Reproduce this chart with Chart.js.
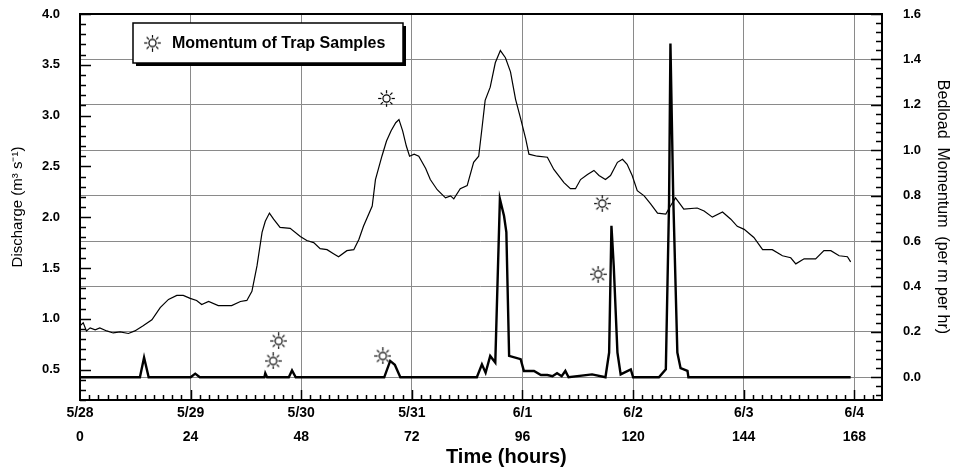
<!DOCTYPE html>
<html>
<head>
<meta charset="utf-8">
<script src="https://cdn.jsdelivr.net/npm/chart.js@4.4.1/dist/chart.umd.min.js"></script>
<style>
  html, body { margin: 0; padding: 0; background: #fff; }
</style>
</head>
<body>
<canvas id="flowChart" width="958" height="469"></canvas>
<script>
// discharge, hours since 5/28 00:00
const flowHours = [0, 0.7, 1.4, 2.2, 3.3, 4.3, 5.8, 7.2, 8.7, 10.5, 11.9, 13.7, 15.6, 17.4, 19.2, 21, 22.4, 23.9,
  25.3, 26.4, 27.9, 30, 32.9, 34.8, 36.2, 37.3, 38.4, 39.5, 40.2, 41.1, 42, 43.4, 45.6, 47.8, 49.2, 50.7,
  52.1, 53.6, 55, 56.1, 57.9, 59.4, 60.5, 61.5, 63.4, 64.1, 65.5, 66.5, 67.5, 68.5, 69.2, 70, 70.8, 71.5,
  72.5, 73.5, 75, 76, 77.5, 79.3, 80.4, 81.1, 82.5, 84, 85.4, 86.5, 87.2, 87.9, 89, 90.1, 91.2, 92.3, 93.4,
  94.5, 95.6, 96.7, 97.4, 99.2, 101.4, 102.8, 105, 106.4, 107.5, 108.6, 110.1, 111.5, 112.6, 114, 115.1,
  116.6, 117.7, 118.7, 119.8, 120.9, 122.4, 123.8, 125.3, 127.1, 128.1, 129.2, 131, 133.9, 135.4, 137.2,
  139.4, 141.2, 142.6, 144.1, 146.2, 148.1, 150.2, 152.4, 154.2, 155.3, 157.1, 159.6, 161.4, 162.9, 164.7,
  166.5, 167.2];
const flowValues = [0.93, 0.96, 0.88, 0.91, 0.89, 0.91, 0.88, 0.86, 0.87, 0.855, 0.88, 0.93, 0.99, 1.11, 1.19, 1.23, 1.23, 1.20,
  1.18, 1.14, 1.17, 1.13, 1.13, 1.17, 1.18, 1.27, 1.52, 1.85, 1.96, 2.04, 1.98, 1.90, 1.89, 1.81, 1.77, 1.75,
  1.69, 1.68, 1.64, 1.61, 1.67, 1.68, 1.78, 1.91, 2.11, 2.37, 2.60, 2.75, 2.85, 2.93, 2.96, 2.85, 2.70, 2.60,
  2.62, 2.60, 2.48, 2.37, 2.27, 2.19, 2.21, 2.18, 2.28, 2.31, 2.54, 2.60, 2.87, 3.15, 3.28, 3.52, 3.64, 3.57, 3.43,
  3.16, 2.97, 2.77, 2.62, 2.60, 2.59, 2.47, 2.34, 2.28, 2.28, 2.37, 2.42, 2.46, 2.41, 2.37, 2.41,
  2.54, 2.57, 2.52, 2.41, 2.26, 2.21, 2.13, 2.04, 2.03, 2.11, 2.19, 2.08, 2.09, 2.06, 2.00,
  2.05, 1.98, 1.91, 1.88, 1.80, 1.68, 1.68, 1.62, 1.60, 1.54, 1.59, 1.59, 1.67, 1.67, 1.62,
  1.61, 1.56];

// bedload momentum
const bedHours = [0, 13.0, 13.9, 14.9, 24, 25, 26, 40, 40.2, 40.6, 45.3, 46, 46.8, 66, 67.3, 68.3, 69.5,
  86.1, 87.2, 88, 89, 90.1, 91.1, 92, 92.5, 93.1, 95.6, 96.3, 98.5, 100, 101.4, 102.5, 103.5, 104.5, 105.3, 106,
  111.1, 114, 114.8, 115.3, 115.8, 116.6, 117.3, 119.5, 120, 125.6, 127.1, 127.8, 128.1, 128.7, 129.6, 130.3,
  131.8, 132, 167.2];
const bedValues = [0, 0, 0.087, 0, 0, 0.016, 0, 0, 0.018, 0, 0, 0.03, 0, 0, 0.072, 0.055, 0,
  0, 0.057, 0.02, 0.094, 0.065, 0.785, 0.71, 0.64, 0.094, 0.08, 0.028, 0.028, 0.01, 0.01, 0.005, 0.018, 0.005, 0.028, 0,
  0.013, 0, 0.109, 0.667, 0.49, 0.109, 0.013, 0.035, 0, 0, 0.035, 0.77, 1.47, 0.80, 0.109, 0.04,
  0.028, 0, 0];

// trap samples
const sampleHours = [41.9, 43.1, 65.7, 66.5, 112.4, 113.3];
const sampleValues = [0.072, 0.16, 0.094, 1.228, 0.454, 0.765];

const hourTicks = [0, 24, 48, 72, 96, 120, 144, 168];
const dateLabels = ['5/28', '5/29', '5/30', '5/31', '6/1', '6/2', '6/3', '6/4'];
const flowTicks = [0.5, 1.0, 1.5, 2.0, 2.5, 3.0, 3.5, 4.0];
const bedTicks = [0, 0.2, 0.4, 0.6, 0.8, 1.0, 1.2, 1.4, 1.6];

const FONT = "'Liberation Sans', Arial, sans-serif";
Chart.defaults.font.family = FONT;
Chart.defaults.color = '#000';

function makeSun(size) {
  const c = document.createElement('canvas');
  c.width = c.height = size;
  const g = c.getContext('2d');
  const m = size / 2;
  g.strokeStyle = '#000';
  g.lineWidth = 1.2;
  g.fillStyle = '#fff';
  g.beginPath();
  g.arc(m, m, size * 0.21, 0, Math.PI * 2);
  g.fill();
  g.stroke();
  for (let k = 0; k < 8; k++) {
    const a = k * Math.PI / 4;
    g.beginPath();
    g.moveTo(m + Math.cos(a) * size * 0.3, m + Math.sin(a) * size * 0.3);
    g.lineTo(m + Math.cos(a) * size * 0.49, m + Math.sin(a) * size * 0.49);
    g.stroke();
  }
  return c;
}
const sun = makeSun(17);

const pts = (xs, ys) => xs.map((x, i) => ({ x: x, y: ys[i] }));

// y scales: fixed width, and no extra top/bottom room for the end labels
const fitY = w => s => { s.width = w; s.paddingTop = 0; s.paddingBottom = 0; };

// ticks point into the plot, plus top frame, x title and boxed legend
const framePlugin = {
  id: 'framePlugin',
  afterDatasetsDraw(chart) {
    const { ctx, chartArea: a, scales } = chart;
    ctx.save();
    ctx.strokeStyle = '#000';
    ctx.lineWidth = 1.5;
    const line = (x1, y1, x2, y2) => { ctx.beginPath(); ctx.moveTo(x1, y1); ctx.lineTo(x2, y2); ctx.stroke(); };

    for (let k = 2; k <= 40; k++) {
      const y = Math.round(scales.y.getPixelForValue(k / 10)) + 0.5;
      line(a.left, y, a.left + (k % 5 === 0 ? 11 : 6), y);
    }
    for (let k = -2; k <= 40; k++) {
      const y = Math.round(scales.y2.getPixelForValue(k * 0.04)) + 0.5;
      line(a.right, y, a.right - (k % 5 === 0 ? 11 : 6), y);
    }
    for (let h = 2; h <= 172; h += 2) {
      const x = Math.round(scales.x.getPixelForValue(h)) + 0.5;
      line(x, a.bottom, x, a.bottom - (h % 24 === 0 ? 10 : 5));
    }
    ctx.lineWidth = 2;
    line(a.left - 1, a.top, a.right + 1, a.top);

    // x axis title, set a little right of centre as in the source
    ctx.fillStyle = '#000';
    ctx.font = 'bold 20px ' + FONT;
    ctx.textAlign = 'center';
    ctx.textBaseline = 'middle';
    ctx.fillText('Time (hours)', scales.x.getPixelForValue(92.5), 457);

    // legend box
    const bx = a.left + 53, by = a.top + 9, bw = 270, bh = 40;
    ctx.fillRect(bx + 3, by + 3, bw, bh);
    ctx.fillStyle = '#fff';
    ctx.fillRect(bx, by, bw, bh);
    ctx.lineWidth = 1.5;
    ctx.strokeRect(bx, by, bw, bh);
    ctx.drawImage(sun, bx + 11, by + bh / 2 - 8.5);
    ctx.fillStyle = '#000';
    ctx.font = 'bold 16px ' + FONT;
    ctx.textAlign = 'left';
    ctx.fillText(chart.data.datasets[2].label, bx + 39, by + bh / 2 + 1);
    ctx.restore();
  }
};

new Chart(document.getElementById('flowChart'), {
  type: 'line',
  data: {
    datasets: [{
      label: 'Discharge',
      data: pts(flowHours, flowValues),
      yAxisID: 'y',
      borderColor: '#000',
      borderWidth: 1.2,
      pointRadius: 0,
      tension: 0
    }, {
      label: 'Bedload Momentum',
      data: pts(bedHours, bedValues),
      yAxisID: 'y2',
      borderColor: '#000',
      borderWidth: 2.4,
      pointRadius: 0,
      tension: 0
    }, {
      label: 'Momentum of Trap Samples',
      data: pts(sampleHours, sampleValues),
      yAxisID: 'y2',
      showLine: false,
      pointStyle: sun,
      pointRadius: 8
    }]
  },
  options: {
    responsive: false,
    animation: false,
    layout: { padding: { top: 14, left: 0, right: 0, bottom: 0 } },
    plugins: {
      legend: { display: false },
      tooltip: { enabled: false }
    },
    scales: {
      x: {
        type: 'linear',
        min: 0,
        max: 174,
        afterBuildTicks: s => { s.ticks = hourTicks.map(v => ({ value: v })); },
        afterFit: s => { s.height = 69; },
        ticks: {
          autoSkip: false,
          maxRotation: 0,
          padding: 1,
          font: { size: 14, weight: 'bold', lineHeight: 1.72 },
          callback: v => {
            const i = hourTicks.indexOf(v);
            return i < 0 ? '' : [dateLabels[i], String(v)];
          }
        },
        grid: { color: '#8a8a8a', lineWidth: 1, drawTicks: false },
        border: { color: '#000', width: 2 }
      },
      y: {
        position: 'left',
        min: 0.2,
        max: 4.0,
        afterBuildTicks: s => { s.ticks = flowTicks.map(v => ({ value: v })); },
        afterFit: fitY(80),
        ticks: {
          padding: 12,
          font: { size: 13, weight: 'bold' },
          callback: v => v.toFixed(1)
        },
        grid: { display: false },
        border: { color: '#000', width: 2 },
        title: {
          display: true,
          text: 'Discharge (m³ s⁻¹)',
          font: { size: 15 },
          padding: { top: 9, bottom: 0 }
        }
      },
      y2: {
        position: 'right',
        min: -0.1,
        max: 1.6,
        afterBuildTicks: s => { s.ticks = bedTicks.map(v => ({ value: v })); },
        afterFit: fitY(76),
        ticks: {
          padding: 21,
          font: { size: 13, weight: 'bold' },
          callback: v => v.toFixed(1)
        },
        grid: { color: '#8a8a8a', lineWidth: 1, drawTicks: false },
        border: { color: '#000', width: 2 },
        title: {
          display: true,
          text: 'Bedload  Momentum  (per m per hr)',
          font: { size: 16 },
          padding: { top: 6, bottom: 0 }
        }
      }
    }
  },
  plugins: [framePlugin]
});
</script>
</body>
</html>
